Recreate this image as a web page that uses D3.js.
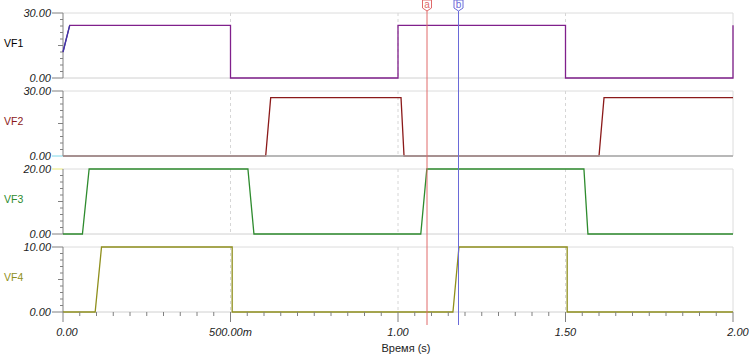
<!DOCTYPE html>
<html>
<head>
<meta charset="utf-8">
<script src="https://cdn.jsdelivr.net/npm/d3@7"></script>
<style>
  body { margin: 0; background: #fff; }
  svg { font-family: "Liberation Sans", Arial, sans-serif; }
</style>
</head>
<body>
<script>
// signals: breakpoints (time in s) and values (V)
var vf1T = [0, 0.02, 0.5, 0.5, 1.0, 1.0, 1.5, 1.5, 2.0, 2.0];
var vf1V = [12, 24.3, 24.3, 0, 0, 24.3, 24.3, 0, 0, 24.3];
var vf2T = [0, 0.605, 0.62, 1.009, 1.018, 1.6, 1.615, 2.0];
var vf2V = [0, 0, 26.9, 26.9, 0, 0, 26.9, 26.9];
var vf3T = [0, 0.058, 0.078, 0.552, 0.57, 1.068, 1.086, 1.555, 1.567, 2.0];
var vf3V = [0, 0, 20, 20, 0, 0, 20, 20, 0, 0];
var vf4T = [0, 0.096, 0.115, 0.505, 0.505, 1.164, 1.182, 1.505, 1.505, 2.0];
var vf4V = [0, 0, 10, 10, 0, 0, 10, 10, 0, 0];

var names = ["VF1", "VF2", "VF3", "VF4"];
var yMax = [30, 30, 20, 10];
var xTickLabels = ["0.00", "500.00m", "1.00", "1.50", "2.00"];
var cursorNames = ["a", "b"];
var cursorT = [1.0866, 1.1806];

var width = 750, height = 361;
var left = 63, right = 733, top0 = 13, panelH = 65, step = 78;

var series = [
  { t: vf1T, v: vf1V, color: "#80208c", label: "#000" },
  { t: vf2T, v: vf2V, color: "#8b1a1a", label: "#8b1a1a", grayBase: true },
  { t: vf3T, v: vf3V, color: "#2e8b2e", label: "#2e8b2e" },
  { t: vf4T, v: vf4V, color: "#8f8f1c", label: "#8f8f1c" }
];

var svg = d3.select("body").append("svg")
  .attr("width", width)
  .attr("height", height);

var x = d3.scaleLinear().domain([0, 2]).range([left, right]);

series.forEach(function(s, i) {
  var y0 = top0 + i * step;
  var y = d3.scaleLinear().domain([0, yMax[i]]).range([y0 + panelH, y0]);
  var g = svg.append("g");

  // panel frame
  g.append("line").attr("x1", left).attr("x2", right).attr("y1", y0).attr("y2", y0)
    .style("stroke", "#dcdcdc");
  g.append("line").attr("x1", left).attr("x2", right).attr("y1", y0 + panelH).attr("y2", y0 + panelH)
    .style("stroke", "#d0d0d0");
  g.append("line").attr("x1", right).attr("x2", right).attr("y1", y0).attr("y2", y0 + panelH)
    .style("stroke", "#dcdcdc");

  // dashed grid
  g.selectAll(".grid").data([0.5, 1.0, 1.5]).enter().append("line")
    .attr("x1", d => x(d)).attr("x2", d => x(d))
    .attr("y1", y0).attr("y2", y0 + panelH)
    .style("stroke", "#d6d6d6")
    .style("stroke-dasharray", "3,3");

  // y axis with minor ticks
  var minor = d3.range(1, 10).map(k => yMax[i] * k / 10);
  g.selectAll(".mt").data(minor).enter().append("line")
    .attr("x1", (d, k) => k === 4 ? left - 5 : left - 3).attr("x2", left)
    .attr("y1", d => y(d)).attr("y2", d => y(d))
    .style("stroke", "#808080");
  g.selectAll(".Mt").data([0, yMax[i]]).enter().append("line")
    .attr("x1", left - 11).attr("x2", left)
    .attr("y1", d => y(d)).attr("y2", d => y(d))
    .style("stroke", (d, k) => (i === 1 && k === 0) ? "#7fd8e8" : (i === 2 && k === 1) ? "#e8e87a" : "#808080");
  g.append("line").attr("x1", left).attr("x2", left).attr("y1", y0).attr("y2", y0 + panelH)
    .style("stroke", "#808080");

  g.selectAll(".yl").data([0, yMax[i]]).enter().append("text")
    .attr("x", 51).attr("y", d => y(d) + 4)
    .attr("text-anchor", "end")
    .style("font-size", "11px")
    .style("font-style", "italic")
    .style("fill", "#222")
    .text(d => d3.format(".2f")(d));

  g.append("text")
    .attr("x", 4).attr("y", y0 + 34)
    .style("font-size", "10.5px")
    .style("fill", s.label)
    .text(names[i]);

  // signal
  var pts = s.t.map((t, k) => [t, s.v[k]]);
  var line = d3.line().x(d => x(d[0])).y(d => y(d[1]));
  g.append("path")
    .attr("d", line(pts))
    .style("fill", "none")
    .style("stroke", s.color)
    .style("stroke-width", 1.3);
  if (i === 0) {
    g.append("path")
      .attr("d", line(pts.slice(0, 2)))
      .style("fill", "none")
      .style("stroke", "#3a3aa8")
      .style("stroke-width", 1.3);
  }
  if (s.grayBase) {
    g.append("line").attr("x1", left).attr("x2", right).attr("y1", y(0)).attr("y2", y(0))
      .style("stroke", "#a8a8a8").style("stroke-width", 1.3);
  }
});

// bottom time axis
var yb = top0 + 3 * step + panelH;
var minorX = d3.range(0, 41).map(k => k * 0.05);
svg.selectAll(".xt").data(minorX).enter().append("line")
  .attr("x1", d => x(d)).attr("x2", d => x(d))
  .attr("y1", yb).attr("y2", (d, k) => k % 10 === 0 ? yb + 10 : yb + 4)
  .style("stroke", "#808080");

svg.selectAll(".xl").data(xTickLabels).enter().append("text")
  .attr("x", (d, k) => x(k * 0.5) + (k === 0 ? 4 : k === 4 ? 5 : 0))
  .attr("y", 336)
  .attr("text-anchor", "middle")
  .style("font-size", "11px")
  .style("font-style", "italic")
  .style("fill", "#222")
  .text(d => d);

svg.append("text")
  .attr("x", 406).attr("y", 352)
  .attr("text-anchor", "middle")
  .style("font-size", "11px")
  .style("fill", "#222")
  .text("Время (s)");

// cursors
var cColors = ["#e06a6a", "#6a6ad8"];
cursorT.forEach(function(t, k) {
  var cx = x(t);
  svg.append("line")
    .attr("x1", cx).attr("x2", cx).attr("y1", 11).attr("y2", 325)
    .style("stroke", cColors[k]);
  svg.append("path")
    .attr("d", "M" + (cx - 4.5) + ",0 L" + (cx + 4.5) + ",0 L" + (cx + 4.5) + ",8 L" + cx + ",11 L" + (cx - 4.5) + ",8 Z")
    .style("fill", "#fff")
    .style("stroke", cColors[k]);
  svg.append("text")
    .attr("x", cx).attr("y", 8)
    .attr("text-anchor", "middle")
    .style("font-size", "10px")
    .style("fill", cColors[k])
    .text(cursorNames[k]);
});
</script>
</body>
</html>
